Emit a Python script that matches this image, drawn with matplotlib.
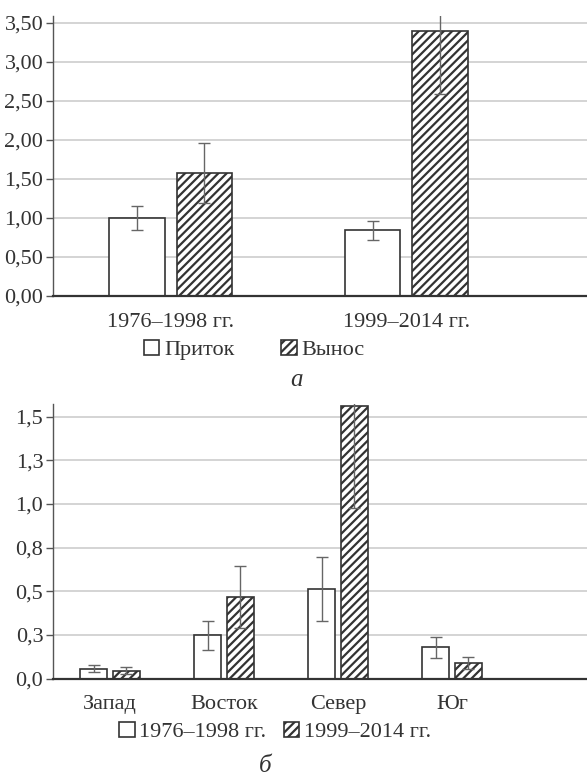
import matplotlib
matplotlib.use('Agg')
import matplotlib.pyplot as plt
import numpy as np

# panel a
periods = ['1976–1998 гг.', '1999–2014 гг.']
inflow = [1.00, 0.84]
inflow_err = [0.15, 0.125]
outflow = [1.575, 3.39]
outflow_err = [0.385, 0.80]
yticks_a = [0, 0.5, 1.0, 1.5, 2.0, 2.5, 3.0, 3.5]
yticklabels_a = ['0,00', '0,50', '1,00', '1,50', '2,00', '2,50', '3,00', '3,50']

# panel b
regions = ['Запад', 'Восток', 'Север', 'Юг']
early = [0.057, 0.248, 0.513, 0.18]
early_err = [0.02, 0.085, 0.185, 0.06]
late = [0.046, 0.468, 1.56, 0.088]
late_err = [0.02, 0.177, 0.585, 0.034]
yticks_b = [0, 0.25, 0.5, 0.75, 1.0, 1.25, 1.5]
yticklabels_b = ['0,0', '0,3', '0,5', '0,8', '1,0', '1,3', '1,5']

plt.rcParams['font.family'] = ['Liberation Serif', 'DejaVu Serif']
plt.rcParams['hatch.linewidth'] = 1.6
plt.rcParams['hatch.color'] = '#222222'

txt = '#333333'
fs = 16
w = 0.235
off = 0.143

fig = plt.figure(figsize=(5.87, 7.78), dpi=100)


def style(ax):
    ax.set_axisbelow(True)
    ax.yaxis.grid(True, color='#d4d4d4', lw=1.4)
    for s in ['top', 'right']:
        ax.spines[s].set_visible(False)
    ax.spines['left'].set_color('#555555')
    ax.spines['left'].set_linewidth(1.0)
    ax.spines['bottom'].set_color('#333333')
    ax.spines['bottom'].set_linewidth(1.6)
    ax.tick_params(axis='y', direction='out', length=5, width=1, color='#555555',
                   labelsize=fs, labelcolor=txt, pad=2)
    ax.tick_params(axis='x', length=0, labelsize=fs, labelcolor=txt, pad=12)


def draw(ax, cats, a, ae, b, be, labels):
    x = np.arange(len(cats))
    ax.bar(x - off, a, w, color='white', edgecolor='#333333', lw=1.2, label=labels[0], zorder=2)
    ax.bar(x + off, b, w, color='white', edgecolor='#333333', lw=1.2, hatch='////',
           label=labels[1], zorder=2)
    ax.errorbar(x - off, a, yerr=ae, fmt='none', ecolor='#666666', elinewidth=1,
                capsize=4, capthick=1, zorder=3)
    ax.errorbar(x + off, b, yerr=be, fmt='none', ecolor='#666666', elinewidth=1,
                capsize=4, capthick=1, zorder=3)
    ax.set_xticks(x)
    ax.set_xticklabels(cats)


# panel a
ax1 = fig.add_axes([53 / 587, 1 - 296 / 778, 534 / 587, 279.6 / 778])
draw(ax1, periods, inflow, inflow_err, outflow, outflow_err, ['Приток', 'Вынос'])
style(ax1)
ax1.set_ylim(0, 3.58)
ax1.set_xlim(-0.5, -0.5 + 534 / 235.5)
ax1.set_yticks(yticks_a)
ax1.set_yticklabels(yticklabels_a)
ax1.legend(loc='center', bbox_to_anchor=(254 / 587, 1 - 350 / 778),
           bbox_transform=fig.transFigure, ncol=2, frameon=False, fontsize=fs,
           handlelength=0.7, handleheight=0.7, handletextpad=0.2, columnspacing=2.1,
           labelcolor=txt)
fig.text(297 / 587, 1 - 380 / 778, 'а', ha='center', va='center', fontsize=18,
         style='italic', color=txt)

# panel b
ax2 = fig.add_axes([53 / 587, 1 - 678.7 / 778, 534 / 587, 274.3 / 778])
draw(ax2, regions, early, early_err, late, late_err, ['1976–1998 гг.', '1999–2014 гг.'])
style(ax2)
ax2.set_ylim(0, 1.57)
ax2.set_xlim(-0.5, -0.5 + 534 / 114)
ax2.set_yticks(yticks_b)
ax2.set_yticklabels(yticklabels_b)
ax2.legend(loc='center', bbox_to_anchor=(275 / 587, 1 - 732 / 778),
           bbox_transform=fig.transFigure, ncol=2, frameon=False, fontsize=fs,
           handlelength=0.7, handleheight=0.7, handletextpad=0.2, columnspacing=0.8,
           labelcolor=txt)
fig.text(265 / 587, 1 - 766 / 778, 'б', ha='center', va='center', fontsize=18,
         style='italic', color=txt)

fig.savefig('out.png', dpi=100, facecolor='white')
